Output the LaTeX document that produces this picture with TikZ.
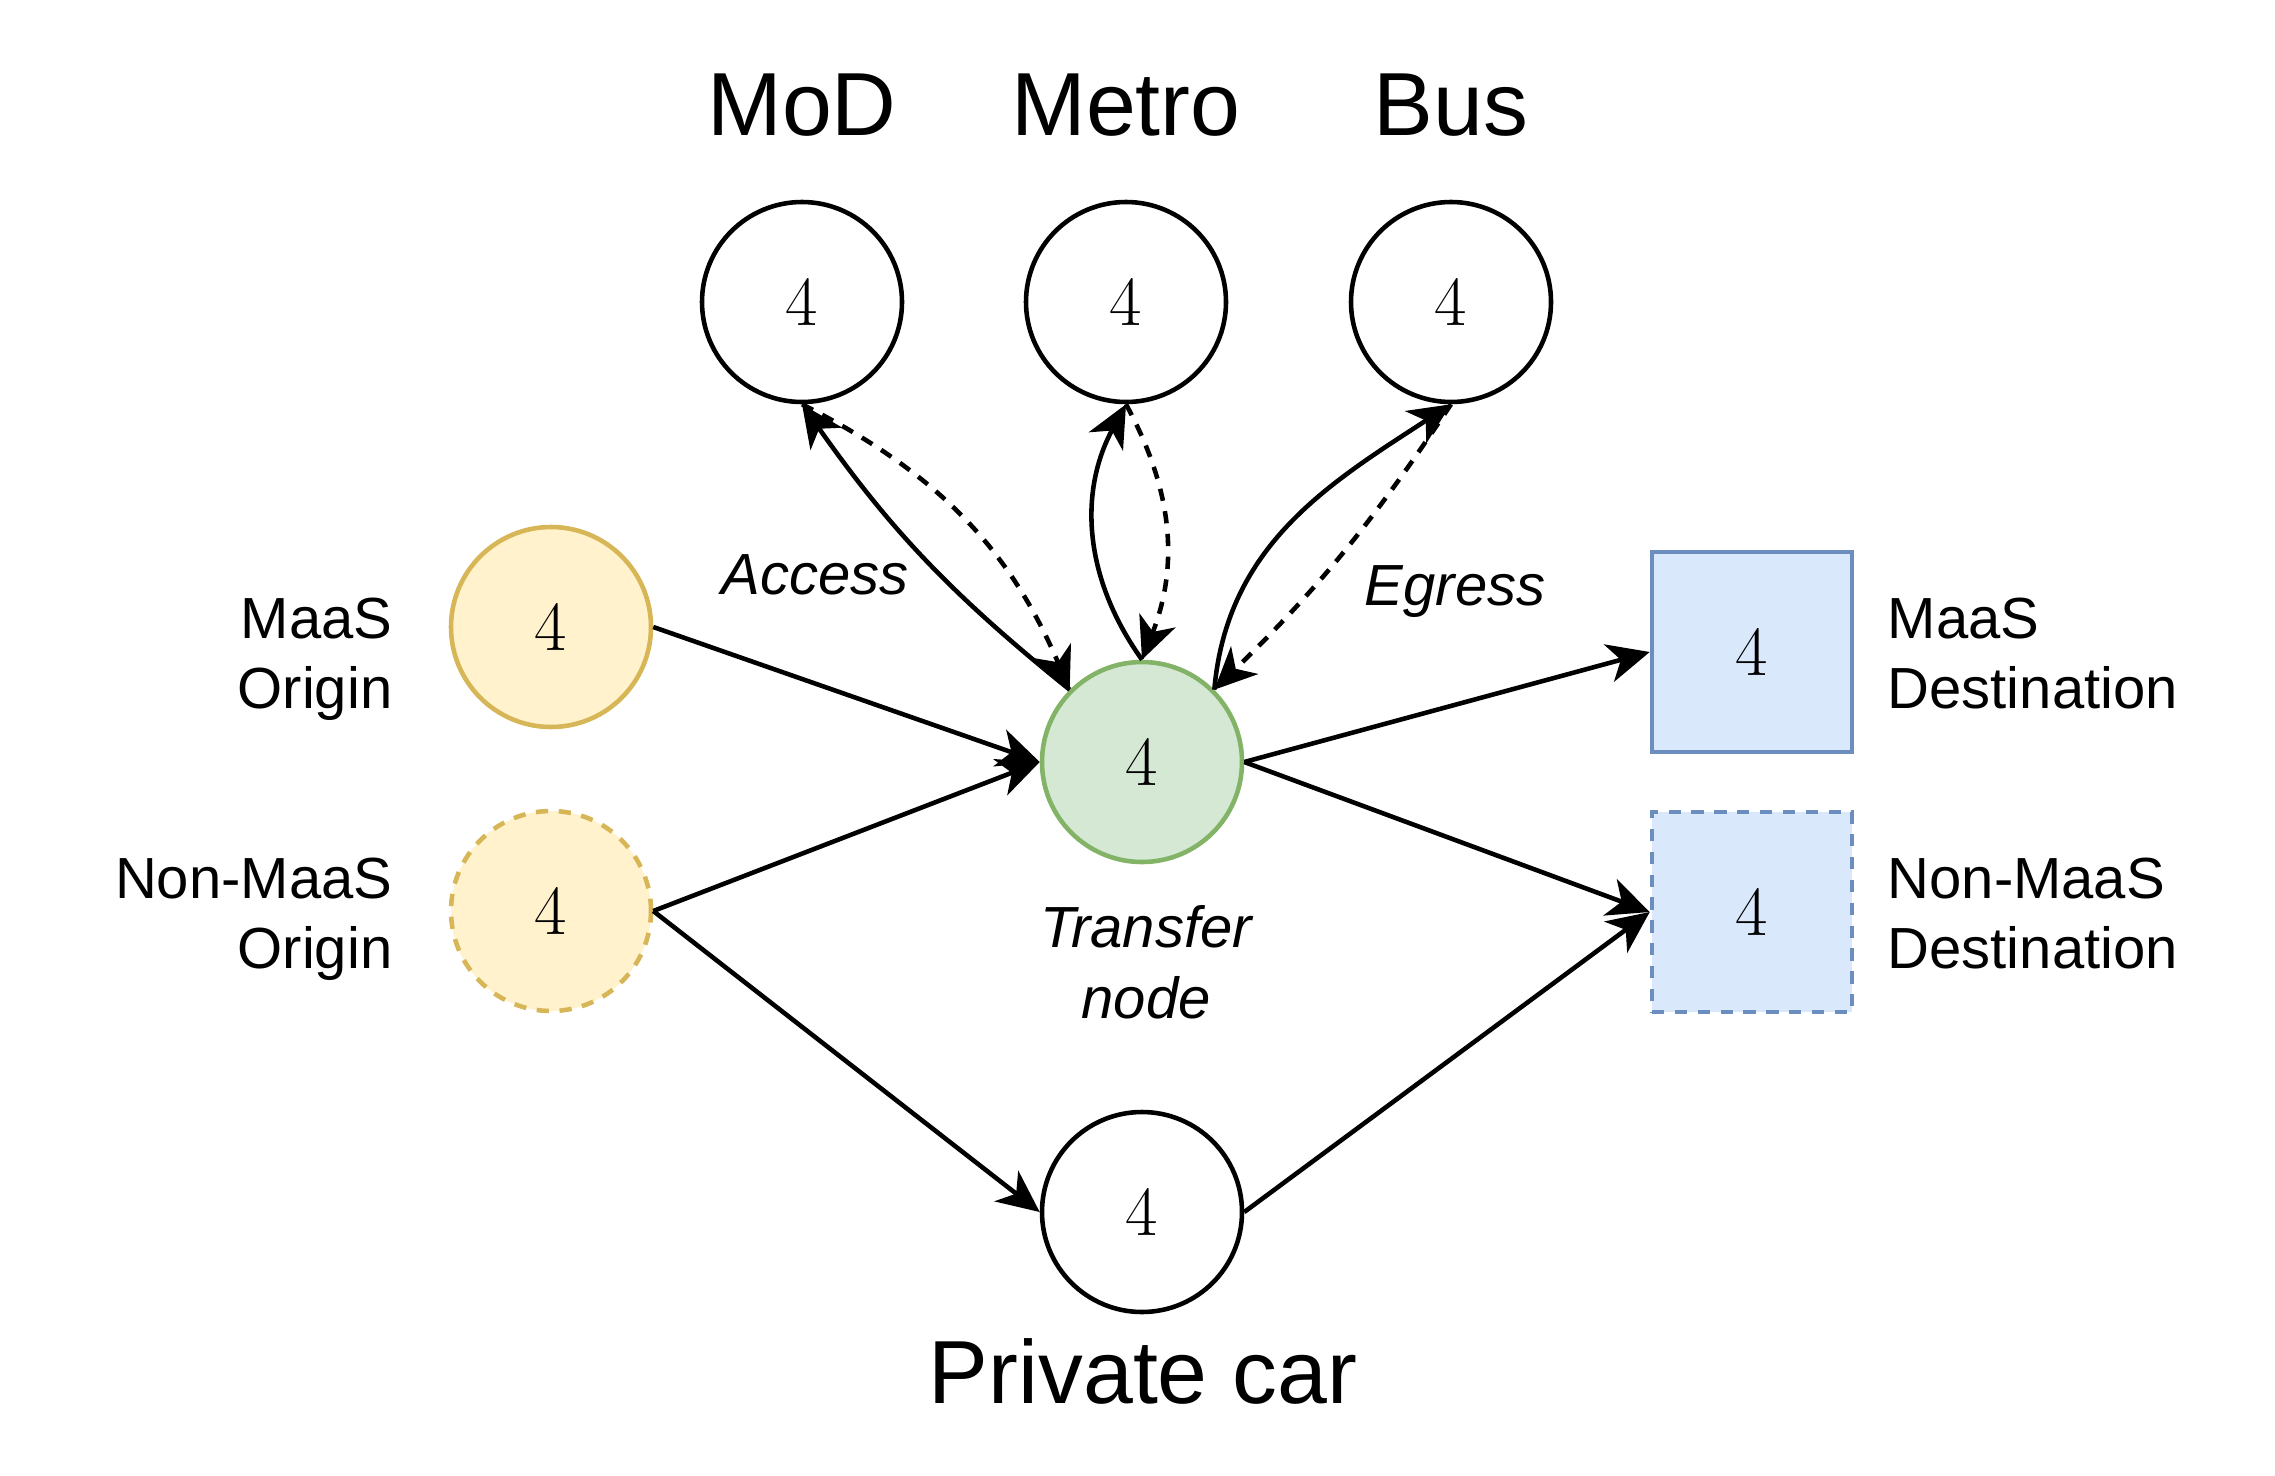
\documentclass[tikz,border=0pt]{standalone}
\usepackage{fontspec}
\usetikzlibrary{arrows.meta}
\newfontfamily\labelfont{Liberation Sans}
\definecolor{origfill}{HTML}{FFF2CC}
\definecolor{origline}{HTML}{D6B656}
\definecolor{transfill}{HTML}{D5E8D4}
\definecolor{transline}{HTML}{82B366}
\definecolor{destfill}{HTML}{DAE8FC}
\definecolor{destline}{HTML}{6C8EBF}

\begin{document}
\begin{tikzpicture}[
		every node/.style={inner sep=0pt},
		modenode/.style={circle, draw, line width=1.3pt, minimum size=2cm, font=\fontsize{20}{24}\selectfont},
		orignode/.style={modenode, draw=origline, fill=origfill},
		transnode/.style={modenode, draw=transline, fill=transfill},
		destnode/.style={rectangle, draw=destline, fill=destfill, line width=1.3pt, minimum size=2cm, font=\fontsize{20}{24}\selectfont},
		biglabel/.style={font=\labelfont\fontsize{25.5}{30}\selectfont},
		smalllabel/.style={font=\labelfont\fontsize{16.5}{20}\selectfont},
		flow/.style={line width=1.3pt, -{Stealth[length=12pt,width=11pt,inset=3.5pt]}},
		backflow/.style={flow, dash pattern=on 3.5pt off 3pt}
	]
		%%%%% START %%%%%
		\useasboundingbox (0,0) rectangle (22.75,-14.75);
		
		\node[modenode] (mod) at (8.02,-3.02) {4};
		\node[modenode] (metro) at (11.26,-3.02) {4};
		\node[modenode] (bus) at (14.51,-3.02) {4};
		\node[biglabel, anchor=base] (modlabel) at (8.02,-1.35) {MoD};
		\node[biglabel, anchor=base] (metrolabel) at (11.26,-1.35) {Metro};
		\node[biglabel, anchor=base] (buslabel) at (14.51,-1.35) {Bus};
		
		\node[orignode] (maasorig) at (5.51,-6.27) {4};
		\node[orignode, dash pattern=on 3.5pt off 3pt] (nonorig) at (5.51,-9.11) {4};
		\node[smalllabel, align=right, anchor=north east] (maasoriglabel) at (3.93,-5.97) {MaaS\\Origin};
		\node[smalllabel, align=right, anchor=north east] (noniglabel) at (3.93,-8.57) {Non-MaaS\\Origin};
		
		\node[transnode] (transfer) at (11.42,-7.62) {4};
		\node[smalllabel, align=center, anchor=north] (transferlabel) at (11.46,-9.05) {\itshape Transfer\\\itshape node};
		\node[smalllabel, anchor=base] (accesslabel) at (8.15,-5.94) {\itshape Access};
		\node[smalllabel, anchor=base] (egresslabel) at (14.55,-6.05) {\itshape Egress};
		
		\node[modenode] (car) at (11.42,-12.12) {4};
		\node[biglabel, anchor=base] (carlabel) at (11.43,-14.03) {Private car};
		
		\node[destnode] (maasdest) at (17.52,-6.52) {4};
		\node[destnode, dash pattern=on 3.5pt off 3pt] (nondest) at (17.52,-9.12) {4};
		\node[smalllabel, align=left, anchor=north west] (maasdestlabel) at (18.87,-5.97) {MaaS\\Destination};
		\node[smalllabel, align=left, anchor=north west] (nondestlabel) at (18.87,-8.57) {Non-MaaS\\Destination};
		
		% origins to transfer and car
		\draw[flow] (maasorig.east) -- (transfer.west);
		\draw[flow] (nonorig.east) -- (transfer.west);
		\draw[flow] (nonorig.east) -- (car.west);
		
		% transfer and car to destinations
		\draw[flow] (transfer.east) -- (maasdest.west);
		\draw[flow] (transfer.east) -- (nondest.west);
		\draw[flow] (car.east) -- (nondest.west);
		
		% access and egress legs
		\draw[flow] (transfer.135) to[bend left=8] (mod.south);
		\draw[backflow] (mod.south) to[bend left=20] (transfer.135);
		\draw[flow] (transfer.north) to[bend left=32] (metro.south);
		\draw[backflow] (metro.south) to[bend left=25] (transfer.north);
		\draw[flow] (transfer.45) to[out=85, in=213] (bus.south);
		\draw[backflow] (bus.south) to[bend left=6] (transfer.45);
		
		%%%%% END %%%%%
	\end{tikzpicture}
\end{document}
